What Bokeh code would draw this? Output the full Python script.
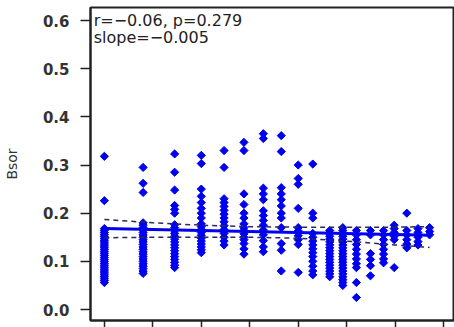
import math
from bokeh.plotting import figure
from bokeh.models import Range1d, FixedTicker, Label, PrintfTickFormatter, CustomJSTickFormatter
from bokeh.embed import file_html
from bokeh.resources import INLINE

# ---- data ----
col_x = [0.0, 0.80, 1.45, 2.0, 2.47, 2.88, 3.28, 3.65, 4.0, 4.3,
         4.65, 4.92, 5.2, 5.49, 5.76, 5.98, 6.24, 6.47, 6.71]
c1 = [0.318, 0.226, 0.168, 0.164, 0.160, 0.156, 0.152, 0.148, 0.144, 0.140, 0.136,
      0.132, 0.128, 0.124, 0.120, 0.116, 0.112, 0.108, 0.104, 0.100, 0.096, 0.092,
      0.088, 0.084, 0.080, 0.076, 0.072, 0.068, 0.064, 0.060, 0.056]
c2 = [0.295, 0.262, 0.243, 0.180, 0.175, 0.170, 0.165, 0.160, 0.155, 0.150, 0.145,
      0.140, 0.135, 0.130, 0.125, 0.120, 0.115, 0.110, 0.105, 0.100, 0.095, 0.090,
      0.085, 0.080, 0.075]
c3 = [0.323, 0.285, 0.248, 0.216, 0.208, 0.200, 0.176, 0.170, 0.164, 0.158, 0.152,
      0.146, 0.140, 0.134, 0.128, 0.122, 0.116, 0.110, 0.104, 0.098, 0.092, 0.087]
c4 = [0.320, 0.303, 0.250, 0.235, 0.222, 0.210, 0.200, 0.190, 0.178, 0.172, 0.166,
      0.160, 0.154, 0.148, 0.142, 0.136, 0.130, 0.124, 0.118]
c5 = [0.330, 0.295, 0.230, 0.222, 0.214, 0.206, 0.198, 0.190, 0.182, 0.174, 0.166,
      0.158, 0.150, 0.142, 0.134]
c6 = [0.347, 0.330, 0.240, 0.218, 0.200, 0.190, 0.178, 0.170, 0.164, 0.157, 0.150,
      0.145, 0.137, 0.126, 0.115]
c7 = [0.365, 0.355, 0.252, 0.240, 0.228, 0.205, 0.195, 0.185, 0.175, 0.165, 0.155,
      0.143, 0.130, 0.120]
c8 = [0.361, 0.328, 0.253, 0.240, 0.228, 0.215, 0.200, 0.190, 0.170, 0.137, 0.123, 0.080]
c9 = [0.300, 0.272, 0.260, 0.210, 0.170, 0.163, 0.153, 0.145, 0.135, 0.077]
c10 = [0.302, 0.200, 0.190, 0.158, 0.150, 0.142, 0.134, 0.126, 0.118, 0.110, 0.100,
       0.090, 0.080, 0.072]
c11 = [0.164, 0.158, 0.152, 0.146, 0.140, 0.134, 0.128, 0.122, 0.116, 0.110, 0.104,
       0.098, 0.092, 0.086, 0.080, 0.074, 0.068]
c12 = [0.170, 0.164, 0.158, 0.152, 0.146, 0.140, 0.134, 0.128, 0.122, 0.116, 0.110,
       0.104, 0.098, 0.092, 0.086, 0.080, 0.074, 0.068, 0.062, 0.056, 0.050]
c13 = [0.164, 0.155, 0.145, 0.135, 0.125, 0.115, 0.105, 0.095, 0.087, 0.056, 0.025]
c14 = [0.164, 0.155, 0.116, 0.104, 0.091, 0.070]
c15 = [0.164, 0.155, 0.145, 0.135, 0.125, 0.115, 0.105, 0.097]
c16 = [0.175, 0.168, 0.160, 0.152, 0.145, 0.087]
c17 = [0.200, 0.164, 0.155, 0.145, 0.136, 0.128]
c18 = [0.168, 0.160, 0.150, 0.141, 0.134]
c19 = [0.170, 0.162, 0.155]
columns = [c1, c2, c3, c4, c5, c6, c7, c8, c9, c10, c11, c12, c13, c14, c15, c16, c17, c18, c19]

fit_x = [0.0, 6.71]
fit_y = [0.168, 0.154]
band_x = [0.0, 1.0, 2.0, 3.0, 4.0, 5.0, 6.0, 6.71]
band_upper = [0.187, 0.180, 0.175, 0.172, 0.171, 0.171, 0.171, 0.172]
band_lower = [0.149, 0.150, 0.150, 0.150, 0.148, 0.142, 0.134, 0.129]

y_ticks = [0.0, 0.1, 0.2, 0.3, 0.4, 0.5, 0.6]
x_ticks = [0, 1, 2, 3, 4, 5, 6, 7]
stat_line1 = "r=\u22120.06, p=0.279"
stat_line2 = "slope=\u22120.005"
y_label = "Bsor"

xs, ys = [], []
for cx, col in zip(col_x, columns):
    for v in col:
        xs.append(cx)
        ys.append(v)

BLUE = "#0000F0"
FONT = "DejaVu Sans"

p = figure(width=454, height=327, output_backend="svg", toolbar_location=None,
           x_range=Range1d(-0.2857, 7.224), y_range=Range1d(-0.0228, 0.627),
           min_border_left=86, min_border_right=0, min_border_top=7, min_border_bottom=7,
           background_fill_color="white", border_fill_color="white")
p.outline_line_color = "#222222"
p.outline_line_width = 2
p.grid.visible = False

p.scatter(xs, ys, marker="square", angle=math.pi / 4, size=5.8,
          fill_color=BLUE, line_color=BLUE, line_width=1)
p.line(fit_x, fit_y, line_color=BLUE, line_width=3)
p.line(band_x, band_upper, line_color="#2a2a5a", line_width=1.5, line_dash="5 4")
p.line(band_x, band_lower, line_color="#2a2a5a", line_width=1.5, line_dash="5 4")

# y axis
ya = p.yaxis[0]
ya.ticker = FixedTicker(ticks=y_ticks)
ya.formatter = PrintfTickFormatter(format="%.1f")
ya.minor_tick_line_color = None
ya.major_tick_in = 0
ya.major_tick_out = 10
ya.major_tick_line_width = 1.5
ya.major_tick_line_color = "#222222"
ya.axis_line_color = "#222222"
ya.axis_line_width = 2
ya.major_label_text_font = FONT
ya.major_label_text_font_style = "bold"
ya.major_label_text_font_size = "15px"
ya.major_label_text_color = "#333333"
ya.major_label_standoff = 11
ya.axis_label = y_label
ya.axis_label_text_font = FONT
ya.axis_label_text_font_style = "normal"
ya.axis_label_text_font_size = "14px"
ya.axis_label_text_color = "#333333"
ya.axis_label_standoff = 20

# x axis (labels cut off in reference)
xa = p.xaxis[0]
xa.ticker = FixedTicker(ticks=x_ticks)
xa.formatter = CustomJSTickFormatter(code="return ''")
xa.minor_tick_line_color = None
xa.major_tick_in = 0
xa.major_tick_out = 7
xa.major_tick_line_width = 1.5
xa.major_tick_line_color = "#222222"
xa.axis_line_color = "#222222"
xa.axis_line_width = 2
xa.major_label_standoff = 0

p.add_layout(Label(x=-0.22, y=0.619, text=stat_line1, text_baseline="top",
                   text_font=FONT, text_font_size="16px", text_color="#222222"))
p.add_layout(Label(x=-0.22, y=0.584, text=stat_line2, text_baseline="top",
                   text_font=FONT, text_font_size="16px", text_color="#222222"))

open("out.html", "w").write(file_html(p, INLINE))
